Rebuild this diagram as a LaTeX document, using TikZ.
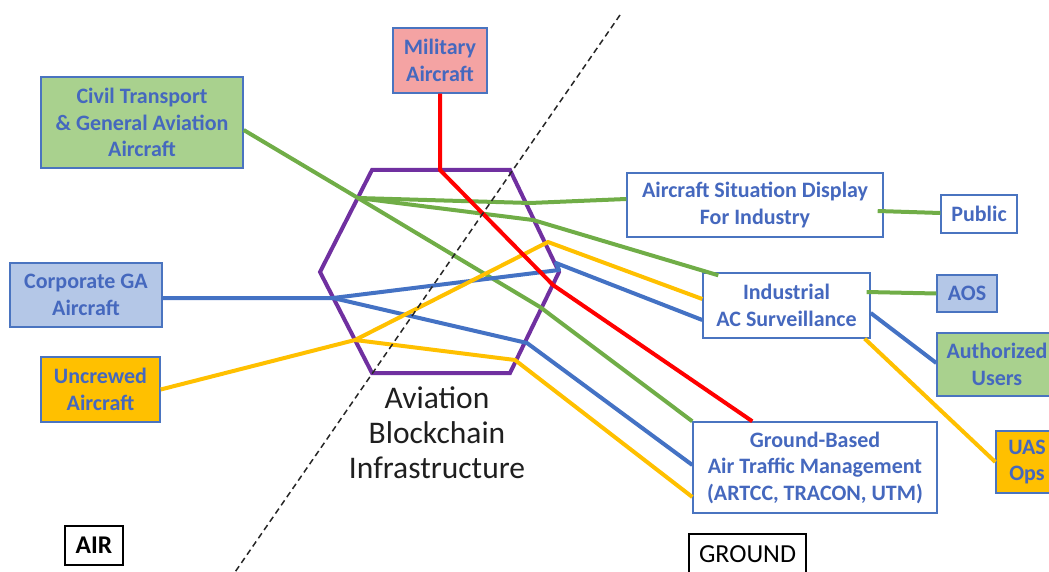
\documentclass[tikz,border=0pt]{standalone}
\usepackage{fontspec}
\setmainfont{Carlito}
\definecolor{lgreen}{HTML}{70AD47}
\definecolor{lblue}{HTML}{4472C4}
\definecolor{lyellow}{HTML}{FFC000}
\definecolor{lred}{HTML}{FF0000}
\definecolor{lpurple}{HTML}{7030A0}
\definecolor{fgreen}{HTML}{A9D18E}
\definecolor{fblue}{HTML}{B4C7E7}
\definecolor{forange}{HTML}{FFC000}
\definecolor{fpink}{HTML}{F4A3A3}
\definecolor{bordblue}{HTML}{4A74C0}
\definecolor{txtblue}{HTML}{4568BE}
\begin{document}
\begin{tikzpicture}[x=1pt,y=-1pt,
  box/.style={draw=bordblue, line width=1.4pt, align=center, inner sep=0pt,
    font=\fontsize{22}{26.5}\selectfont\bfseries, text=txtblue},
  plain/.style={draw=black, line width=1.4pt, align=center, inner sep=0pt, text=black},
  conn/.style={line width=4pt, line join=round},
  grn/.style={conn, draw=lgreen},
  blu/.style={conn, draw=lblue},
  yel/.style={conn, draw=lyellow},
  rd/.style={conn, draw=lred},
  hexline/.style={draw=lpurple, line width=4pt, line join=miter},
  divider/.style={draw=black!85, line width=1.5pt, dash pattern=on 6pt off 4pt}]
\useasboundingbox (0,0) rectangle (1049,572);
\clip (0,0) rectangle (1049,572);

% boxes
\node[box, fill=fpink, minimum width=94pt, minimum height=65pt] (mil) at (440,60.5) {Military\\Aircraft};
\node[box, fill=fgreen, minimum width=202pt, minimum height=91pt] (civ) at (142,122.5) {Civil Transport\\\& General Aviation\\Aircraft};
\node[box, fill=fblue, minimum width=152pt, minimum height=64pt] (corp) at (86,295) {Corporate GA\\Aircraft};
\node[box, fill=forange, minimum width=119pt, minimum height=65pt] (unc) at (100.5,389.5) {Uncrewed\\Aircraft};
\node[box, fill=white, minimum width=256pt, minimum height=64pt] (asd) at (755,205) {Aircraft Situation Display\\For Industry};
\node[box, fill=white, minimum width=76pt, minimum height=38pt] (pub) at (979,214) {Public};
\node[box, fill=white, minimum width=167pt, minimum height=65pt] (ind) at (786.5,305.5) {Industrial\\AC Surveillance};
\node[box, fill=fblue, minimum width=60pt, minimum height=37pt] (aos) at (967,293.5) {AOS};
\node[box, fill=fgreen, minimum width=120pt, minimum height=63pt] (auth) at (997,364.5) {Authorized\\Users};
\node[box, fill=forange, minimum width=62pt, minimum height=62pt] (uas) at (1027,462) {UAS\\Ops};
\node[box, fill=white, minimum width=244pt, minimum height=91pt] (gb) at (815,467.5) {Ground-Based\\Air Traffic Management\\(ARTCC, TRACON, UTM)};
\node[plain, minimum width=117pt, minimum height=40pt, font=\fontsize{26}{30}\selectfont] (grd) at (747.5,554) {GROUND};
\node[plain, minimum width=58pt, minimum height=39pt, font=\fontsize{25.5}{30}\selectfont\bfseries] (air) at (94,545.5) {AIR};
\node[align=center, font=\fontsize{31.5}{35}\selectfont, text=black!88] (abi) at (437,433) {Aviation\\Blockchain\\Infrastructure};

% hexagon
\coordinate (h1) at (372,170); \coordinate (h2) at (510,170); \coordinate (h3) at (559,272);
\coordinate (h4) at (510,373); \coordinate (h5) at (372,373); \coordinate (h6) at (320,272);
\draw[hexline] (h1) -- (h2) -- (h3) -- (h4) -- (h5) -- (h6) -- cycle;

% junction / bend points
\coordinate (r1) at (440,170); \coordinate (r2) at (553,285);
\coordinate (g0) at (358,198); \coordinate (g1) at (530,203); \coordinate (g2) at (533,220); \coordinate (g3) at (540,307);
\coordinate (b0) at (333,298); \coordinate (b1) at (559,270); \coordinate (b2) at (556,263); \coordinate (b3) at (527,343);
\coordinate (y0) at (355,340); \coordinate (y1) at (548,242); \coordinate (y2) at (515,360);

% green
\draw[grn] ([yshift=-7.5pt]civ.east) -- (g0) -- (g3) -- (gb.north west);
\draw[grn] (g0) -- (g1) -- ([yshift=6pt]asd.west);
\draw[grn] (g0) -- (g2) -- ([xshift=16pt,yshift=-3pt]ind.north west);
% blue
\draw[blu] ([yshift=-3pt]corp.east) -- (b0) -- (b1) -- (b2) -- ([yshift=-14.5pt]ind.west);
\draw[blu] (b0) -- (b3) -- ([yshift=2.5pt]gb.west);
% yellow
\draw[yel] (unc.east) -- (y0) -- (y1) -- ([yshift=6.5pt]ind.west);
\draw[yel] (y0) -- (y2) -- ([yshift=-29.5pt]gb.west);
% red
\draw[rd] (mil.south) -- (r1) -- (r2) -- ([xshift=60pt]gb.north west);
% right side
\draw[grn] ([xshift=-6pt,yshift=-6pt]asd.east) -- ([yshift=1pt]pub.west);
\draw[grn] ([xshift=-4pt,yshift=13.5pt]ind.east) -- (aos.west);
\draw[blu] ([yshift=-7.5pt]ind.east) -- ([yshift=1.5pt]auth.west);
\draw[yel] ([xshift=-6pt]ind.south east) -- (uas.west);

% air / ground divider
\draw[divider] (620,15) -- (233,575);
\end{tikzpicture}
\end{document}
